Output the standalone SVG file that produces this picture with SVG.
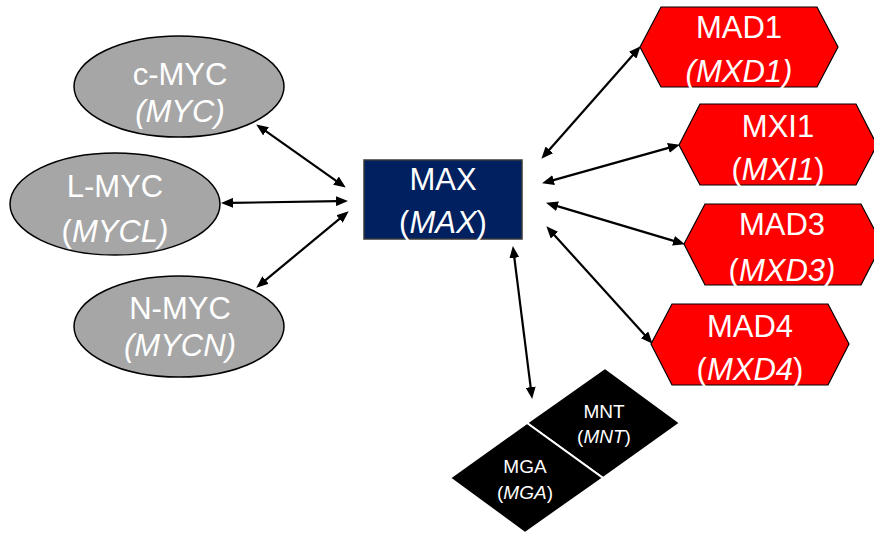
<svg xmlns="http://www.w3.org/2000/svg" width="874" height="533" viewBox="0 0 874 533">
<defs>
<marker id="ah" viewBox="0 0 12 10" refX="2" refY="5" markerWidth="12" markerHeight="10" markerUnits="userSpaceOnUse" orient="auto-start-reverse">
<path d="M0,0 L12,5 L0,10 z" fill="#000"/>
</marker>
</defs>
<style>
text{font-family:"Liberation Sans",Arial,sans-serif;fill:#fff;text-anchor:middle}
.big{font-size:31px}
.sm{font-size:19px}
.i{font-style:italic}
.ell{fill:#a6a6a6;stroke:#000;stroke-width:1.5}
.hex{fill:#ff0000;stroke:#000;stroke-width:1.2}
.dia{fill:#000;stroke:#fff;stroke-width:2}
.con line{stroke:#000;stroke-width:2.2;marker-start:url(#ah);marker-end:url(#ah)}
</style>
<rect width="874" height="533" fill="#fff"/>
<g id="connectors" class="con">
<line x1="264.4" y1="130.2" x2="337.6" y2="181.8"/>
<line x1="231" y1="202.9" x2="338" y2="201.1"/>
<line x1="264" y1="281.3" x2="341" y2="217.7"/>
<line x1="548" y1="151.3" x2="634" y2="53.7"/>
<line x1="551.7" y1="180.6" x2="670.3" y2="147.4"/>
<line x1="555.6" y1="205.6" x2="675.4" y2="241.4"/>
<line x1="553.1" y1="233.7" x2="645.9" y2="336.3"/>
<line x1="514.1" y1="255.9" x2="530.9" y2="389.1"/>
</g>
<g id="c-myc">
<ellipse class="ell" cx="179" cy="86.5" rx="105" ry="50.5"/>
<text class="big" x="180" y="85">c-MYC</text>
<text class="big i" x="180" y="122">(MYC)</text>
</g>
<g id="l-myc">
<ellipse class="ell" cx="115" cy="204" rx="105" ry="51"/>
<text class="big" x="115" y="197">L-MYC</text>
<text class="big" x="115" y="242">(<tspan class="i">MYCL)</tspan></text>
</g>
<g id="n-myc">
<ellipse class="ell" cx="179" cy="326.5" rx="105" ry="50.5"/>
<text class="big" x="180" y="319">N-MYC</text>
<text class="big i" x="180" y="356">(MYCN)</text>
</g>
<g id="max">
<rect x="364" y="160" width="158" height="79" fill="#002060" stroke="#3a3a3a" stroke-width="1.5"/>
<text class="big" x="443" y="190">MAX</text>
<text class="big" x="443" y="233">(<tspan class="i">MAX</tspan>)</text>
</g>
<g id="mad1">
<polygon class="hex" points="640,47 661,7 817,7 838,47 817,87 661,87"/>
<text class="big" x="739" y="38">MAD1</text>
<text class="big i" x="739" y="82">(MXD1)</text>
</g>
<g id="mxi1">
<polygon class="hex" points="679,145 700,104 856,104 877,145 856,185 700,185"/>
<text class="big" x="778" y="137">MXI1</text>
<text class="big" x="778" y="180">(<tspan class="i">MXI1</tspan>)</text>
</g>
<g id="mad3">
<polygon class="hex" points="684,244 705,204 861,204 882,244 861,285 705,285"/>
<text class="big" x="782" y="235">MAD3</text>
<text class="big" x="782" y="281">(<tspan class="i">MXD3)</tspan></text>
</g>
<g id="mad4">
<polygon class="hex" points="651,344 672,304 828,304 849,344 828,385 672,385"/>
<text class="big" x="750" y="337">MAD4</text>
<text class="big" x="750" y="380">(<tspan class="i">MXD4</tspan>)</text>
</g>
<g id="mnt">
<polygon class="dia" points="605,368 680,423 603,478 527,423"/>
<text class="sm" x="604" y="418">MNT</text>
<text class="sm" x="604" y="443">(<tspan class="i">MNT</tspan>)</text>
</g>
<g id="mga">
<polygon class="dia" points="527,423 603,478 525,533 450,478"/>
<text class="sm" x="525" y="473">MGA</text>
<text class="sm" x="525" y="499">(<tspan class="i">MGA</tspan>)</text>
</g>
</svg>
